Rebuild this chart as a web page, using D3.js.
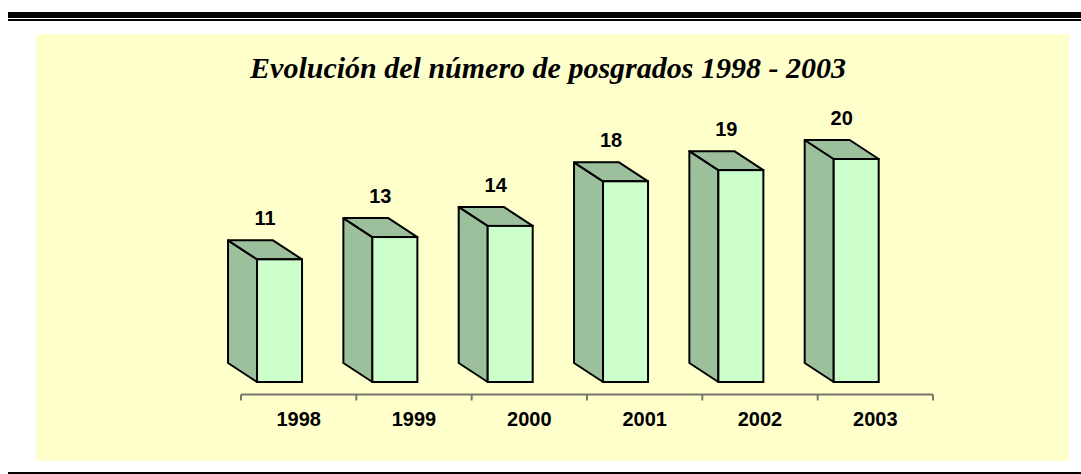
<!DOCTYPE html>
<html>
<head>
<meta charset="utf-8">
<script src="https://cdn.jsdelivr.net/npm/d3@7"></script>
<style>
  body { margin: 0; background: #fff; }
  svg { display: block; }
</style>
</head>
<body>
<svg width="1081" height="474"></svg>
<script>
// Chart data
let years = ['1998', '1999', '2000', '2001', '2002', '2003'];
let values = [11, 13, 14, 18, 19, 20];
let title = 'Evolución del número de posgrados 1998 - 2003';

let svg = d3.select('svg');
let width = +svg.attr('width');

// Page rules (top double rule, bottom rule)
svg.append('rect').attr('x', 8).attr('y', 12).attr('width', width - 8).attr('height', 6).attr('fill', '#000');
svg.append('rect').attr('x', 8).attr('y', 19).attr('width', width - 8).attr('height', 2).attr('fill', '#000');
svg.append('rect').attr('x', 8).attr('y', 472).attr('width', width - 8).attr('height', 2).attr('fill', '#000');

// Chart area background
svg.append('rect')
    .attr('x', 36).attr('y', 34)
    .attr('width', 1033).attr('height', 427)
    .attr('fill', '#FFFFCC');

// Title
svg.append('text')
    .attr('x', 548).attr('y', 78)
    .attr('text-anchor', 'middle')
    .attr('font-family', '"Liberation Serif", "Times New Roman", serif')
    .attr('font-weight', 'bold')
    .attr('font-style', 'italic')
    .attr('font-size', '30px')
    .text(title);

// Scales
let x = d3.scaleBand()
    .domain(years)
    .range([241, 933]);

let y = d3.scaleLinear()
    .domain([0, 20])
    .range([382, 159]);

// 3D offsets and bar geometry
let depth = {dx: 29, dy: 19};
let frontOffset = x.bandwidth() * 0.139;
let frontWidth = 45;

let bars = svg.selectAll('g.bar')
    .data(years.map((yr, i) => ({year: yr, value: values[i]})))
    .enter().append('g')
    .attr('class', 'bar');

// side face
bars.append('path')
    .attr('d', d => {
        let x0 = x(d.year) + frontOffset;
        return 'M' + x0 + ',' + y(d.value) +
            'L' + (x0 - depth.dx) + ',' + (y(d.value) - depth.dy) +
            'L' + (x0 - depth.dx) + ',' + (y(0) - depth.dy) +
            'L' + x0 + ',' + y(0) + 'Z';
    })
    .attr('fill', '#9CC09C')
    .attr('stroke', '#000')
    .attr('stroke-width', 2)
    .attr('stroke-linejoin', 'round');

// top face
bars.append('path')
    .attr('d', d => {
        let x0 = x(d.year) + frontOffset;
        let x1 = x0 + frontWidth;
        let yt = y(d.value);
        return 'M' + x0 + ',' + yt +
            'L' + (x0 - depth.dx) + ',' + (yt - depth.dy) +
            'L' + (x1 - depth.dx) + ',' + (yt - depth.dy) +
            'L' + x1 + ',' + yt + 'Z';
    })
    .attr('fill', '#9CC09C')
    .attr('stroke', '#000')
    .attr('stroke-width', 2)
    .attr('stroke-linejoin', 'round');

// front face
bars.append('rect')
    .attr('x', d => x(d.year) + frontOffset)
    .attr('y', d => y(d.value))
    .attr('width', frontWidth)
    .attr('height', d => y(0) - y(d.value))
    .attr('fill', '#CCFFCC')
    .attr('stroke', '#000')
    .attr('stroke-width', 2);

// value labels
bars.append('text')
    .attr('x', d => x(d.year) + frontOffset + (frontWidth - depth.dx) / 2)
    .attr('y', d => y(d.value) - depth.dy - 15)
    .attr('text-anchor', 'middle')
    .attr('font-family', '"Liberation Sans", Arial, sans-serif')
    .attr('font-weight', 'bold')
    .attr('font-size', '20px')
    .text(d => d.value);

// x axis with ticks at band edges
let axis = svg.append('g')
    .attr('transform', 'translate(0,394.5)');

axis.append('line')
    .attr('x1', x.range()[0]).attr('x2', x.range()[1])
    .attr('stroke', '#77776a').attr('stroke-width', 2);

let edges = years.map(d => x(d)).concat([x.range()[1]]);
axis.selectAll('line.tick')
    .data(edges)
    .enter().append('line')
    .attr('class', 'tick')
    .attr('x1', d => d).attr('x2', d => d)
    .attr('y1', 0).attr('y2', 6)
    .attr('stroke', '#77776a').attr('stroke-width', 2);

axis.selectAll('text')
    .data(years)
    .enter().append('text')
    .attr('x', d => x(d) + x.bandwidth() / 2)
    .attr('y', 31.5)
    .attr('text-anchor', 'middle')
    .attr('font-family', '"Liberation Sans", Arial, sans-serif')
    .attr('font-weight', 'bold')
    .attr('font-size', '20px')
    .text(d => d);
</script>
</body>
</html>
